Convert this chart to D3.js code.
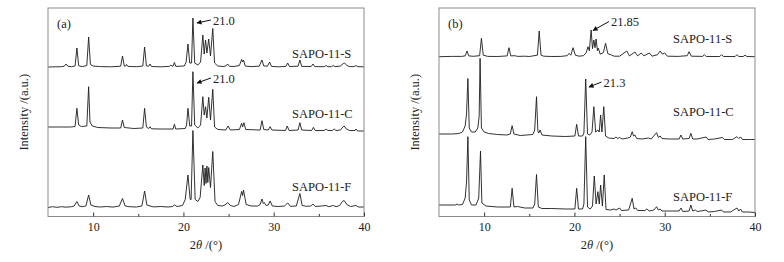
<!DOCTYPE html>
<html>
<head>
<meta charset="utf-8">
<script src="https://cdn.jsdelivr.net/npm/d3@7"></script>
<style>
  body { margin: 0; background: #fff; }
  svg { display: block; }
  text { font-family: "Liberation Serif", "Times New Roman", serif; fill: #222; }
</style>
</head>
<body>
<svg id="chart" width="784" height="262"></svg>
<script>
// ── Data (2θ in degrees, intensity in a.u. above each trace's own baseline) ──

var xTicks      = [10, 20, 30, 40];
var xMinorTicks = [15, 25, 35];
var sampleNames = ["SAPO-11-S", "SAPO-11-C", "SAPO-11-F"];
var panelTags   = ["(a)", "(b)"];

// vertical stacking of the three traces in each panel
var offsetsA = [149.5, 86.5, 9];
var offsetsB = [159.8, 80.5, 4.5];

var aS = [[5,0],[6.5,0.3],[6.8,0.8],[7.0,3],[7.2,0.8],[7.6,0.3],[8.0,1],[8.2,19],[8.4,1.2],[8.8,0.4],[9.3,1.5],[9.5,30],[9.7,2.5],[10.0,1],[10.8,0.4],[12.0,0.2],[13.05,0.8],[13.25,11],[13.45,1],[13.6,1],[13.7,2.5],[13.85,0.6],[14.8,0.3],[15.5,1],[15.7,20],[15.9,1.2],[16.15,0.8],[16.3,3],[16.45,0.5],[17.5,0.2],[18.45,0.6],[18.6,2],[18.75,0.8],[18.85,0.8],[19.0,4.5],[19.15,0.6],[20.1,1],[20.3,5],[20.5,23],[20.7,4],[20.9,4],[21.05,49],[21.25,4],[21.6,2],[21.9,5],[22.15,32],[22.3,13],[22.45,27],[22.6,14],[22.8,28],[23.0,11],[23.25,38.5],[23.45,4],[23.8,1],[24.4,0.5],[24.7,1],[24.9,3],[25.1,0.7],[25.6,0.5],[26.2,1.5],[26.45,7.5],[26.55,5],[26.65,7],[26.85,1],[27.5,0.4],[28.4,0.8],[28.7,7],[28.9,1],[29.3,0.8],[29.55,5],[29.75,0.6],[30.5,0.2],[31.35,0.6],[31.55,4],[31.75,0.5],[32.7,0.8],[32.9,7],[33.1,0.6],[34.15,0.5],[34.35,3],[34.55,0.4],[35.6,0.3],[35.8,1.5],[36.0,0.3],[36.4,0.3],[36.6,1.5],[36.8,0.3],[37.4,1],[37.7,3.5],[37.85,4],[38.1,1.5],[38.4,0.4],[38.9,0.4],[39.1,1.5],[39.3,0.3],[40,0.2]];

var aC = [[5,3],[6.5,3],[7.5,3],[8.0,3.5],[8.2,21.7],[8.4,5],[8.7,3.5],[9.3,4],[9.5,43.3],[9.65,8],[9.9,4],[10.5,2.5],[12,2],[13.05,2],[13.25,10],[13.45,2.5],[14.5,1.5],[15.5,2],[15.7,21.7],[15.9,3],[16.15,1.5],[16.3,3.3],[16.45,1.2],[17.5,1],[18.85,1],[19.0,5.7],[19.15,1],[20.2,1.5],[20.35,5],[20.5,21.7],[20.7,4],[20.9,4],[21.05,58.3],[21.25,5],[21.6,2],[21.9,5],[22.15,33.3],[22.3,15],[22.45,23.3],[22.6,12],[22.8,32.7],[23.0,10],[23.25,40.7],[23.45,3],[23.8,0.5],[24.7,0],[24.95,4],[25.2,0],[26.2,0.5],[26.45,6.7],[26.55,3],[26.7,7.3],[26.9,0.5],[28.5,0],[28.7,9.3],[28.9,0.5],[29.4,0],[29.6,3.3],[29.8,0],[31.3,-0.5],[31.5,4],[31.7,-0.5],[32.7,0],[32.9,7.3],[33.1,0],[34.2,-0.5],[34.4,2.7],[34.6,-0.5],[35.6,-0.5],[35.8,1],[36.0,-0.5],[36.5,-0.5],[36.7,1],[36.9,-0.5],[37.4,0],[37.65,3],[37.8,4],[38.05,1],[38.4,-0.5],[39.0,-0.5],[39.1,1],[39.3,-1],[40,-1]];

var aF = [[5,0],[5.5,0.8],[6,0.2],[6.5,0.8],[7,0.3],[7.6,0.8],[7.9,1.5],[8.2,6],[8.45,1.5],[8.8,0.8],[9.2,1.5],[9.5,12.5],[9.75,2.5],[10.2,1],[10.8,0.5],[11.5,1],[12.2,0.4],[12.9,1.5],[13.25,9],[13.55,1.5],[14,0.8],[14.8,0.5],[15.4,1.5],[15.7,16.5],[15.95,2.5],[16.3,1.5],[16.7,0.6],[17.5,1],[18.3,0.5],[18.8,1],[19.0,2.5],[19.3,1],[19.9,2],[20.2,8],[20.5,32.5],[20.75,8],[20.85,8],[21.05,77],[21.3,8],[21.6,6],[21.85,10],[22.15,42.5],[22.3,22],[22.4,39.5],[22.5,24],[22.6,41.5],[22.7,25],[22.8,40],[23.0,20],[23.25,56],[23.5,6],[23.8,2],[24.3,1.5],[24.6,2.5],[24.9,5],[25.2,2],[25.6,1],[26.1,3],[26.45,16],[26.55,12],[26.65,17.5],[26.95,3],[27.5,1.5],[28.2,1.5],[28.5,3],[28.7,8.5],[28.85,4],[28.95,5],[29.15,2],[29.4,2.5],[29.6,6.5],[29.85,1.5],[30.5,1],[31.2,1.5],[31.55,4.5],[31.85,1.2],[32.5,1.5],[32.9,14],[33.15,2],[33.6,1.2],[34.1,1.5],[34.35,3.5],[34.6,1],[35.3,1.5],[35.8,2],[36.1,0.8],[36.6,2],[36.9,0.8],[37.3,2],[37.6,6],[37.8,7],[38.1,3],[38.5,1],[39.1,2],[39.4,0.5],[40,0.5]];

var bS = [[5,0],[6.5,0.3],[7.5,0.3],[7.9,0.8],[8.1,5.7],[8.3,0.8],[8.8,0.4],[9.5,1],[9.7,18.4],[9.9,1.5],[10.4,0.3],[11.5,0.2],[12.55,0.8],[12.75,9],[12.95,0.8],[13.4,1],[13.7,0.3],[14.5,0.5],[15.0,0.2],[15.9,1.5],[16.1,25.7],[16.3,1.5],[16.6,0.5],[17.5,0.2],[18.5,0.3],[19.2,1],[19.4,3.4],[19.6,1.5],[19.85,9],[20.1,1.5],[20.5,0.5],[21.0,1],[21.3,4],[21.5,10],[21.65,6],[21.85,26.7],[22.0,8],[22.15,16.7],[22.28,9],[22.4,17.7],[22.55,6],[22.65,8.7],[22.85,2.5],[23.2,4],[23.45,13.4],[23.7,3],[24.1,1.7],[24.4,0.5],[25.0,0.5],[25.8,5.7],[26.1,0.8],[26.7,4.7],[27.0,0.8],[27.4,3.7],[27.7,0.8],[28.3,3.7],[28.6,0.5],[29.2,2],[29.5,5.7],[29.75,2.5],[30.0,3.7],[30.3,0.5],[31.5,0.3],[32.5,1],[32.7,5],[32.95,0.5],[34.2,0.3],[34.4,2],[34.6,0.2],[36.1,0.2],[36.3,2],[36.5,0.2],[37.8,0.2],[38.0,2],[38.2,0.2],[38.7,0.2],[38.9,1.5],[39.1,0.2],[40,0]];

var bC = [[5,2],[6.5,2],[7.2,2.5],[7.6,4],[7.9,10],[8.05,22],[8.2,57.5],[8.35,8],[8.6,4],[9.0,4],[9.3,8],[9.45,20],[9.55,77.7],[9.7,8],[10.0,4],[10.5,2.5],[11.5,1.5],[12.5,1],[12.9,2],[13.1,10.3],[13.3,2],[14,0.5],[15.4,1.5],[15.6,6],[15.8,39.3],[15.95,5],[16.05,3],[16.2,6],[16.4,1],[17.5,0],[19,-0.5],[20.05,0],[20.25,11.7],[20.45,0],[20.9,0],[21.05,3],[21.25,57],[21.45,2],[21.7,1],[21.95,4],[22.15,29.3],[22.35,4],[22.6,6],[22.75,4],[22.9,21],[23.05,4],[23.25,29.3],[23.45,0],[23.8,-2],[24.4,-2.5],[24.6,-1],[24.8,-2.5],[25.0,-1.5],[25.3,-3],[25.9,-2],[26.2,-1],[26.4,4.3],[26.55,0],[26.7,1],[26.9,-2.5],[27.5,-3],[28.2,-2],[28.5,-3],[29.1,3.3],[29.3,-1.5],[29.5,0],[29.7,-2.5],[30.5,-3],[31.6,-3],[31.8,1],[32,-3],[32.7,-2.5],[32.9,2.7],[33.1,-3],[33.6,-3],[34.6,-1],[34.8,-3.5],[35.5,-3],[36.4,-1.5],[36.6,-3.5],[37.5,-3.5],[38.0,-0.7],[38.2,-2.5],[38.4,-1],[38.6,-3.5],[39.5,-3.5],[40,-3.5]];

var bF = [[5,7],[6,7],[6.8,7],[7.0,8],[7.2,7],[7.6,7.5],[7.9,14],[8.05,30],[8.2,75.3],[8.35,12],[8.6,7],[9.1,7],[9.4,14],[9.6,61],[9.75,9],[10.2,6],[11.5,5],[12.9,5],[13.1,23.7],[13.3,5],[13.7,5.5],[14.5,4],[15.4,4],[15.6,8],[15.8,37.5],[16.0,5],[16.4,3.5],[17.5,3.5],[19.0,3],[20.05,3],[20.25,23.7],[20.45,3],[20.9,3],[21.05,8],[21.25,75.3],[21.45,5],[21.75,3],[22.0,6],[22.2,36],[22.4,8],[22.6,20.3],[22.75,8],[22.9,27],[23.1,6],[23.3,37],[23.5,2.5],[24.0,2],[24.4,3],[24.6,2],[25.0,4],[25.2,1.5],[26.0,2],[26.4,13.7],[26.6,3],[26.8,4],[27.0,1.5],[27.8,1.5],[28.0,3],[28.3,1],[28.8,2],[29.1,5.3],[29.3,2],[29.5,3],[29.7,1],[30.5,1],[31.6,1],[31.8,4],[32.0,0.5],[32.7,1],[32.9,7],[33.1,1],[33.4,2],[33.6,0.5],[34.0,1],[34.6,2],[34.8,0],[35.5,0.5],[36.3,2],[36.5,0],[37.3,0],[38.0,4],[38.2,1],[38.4,3],[38.6,0],[39.3,0],[40,-0.5]];

// peak call-outs: arrow head and label anchor, both as [2θ, level above trace baseline]
var notesA = [
  { trace: 0, text: "21.0",  head: [21.5, 44],   label: [23.27, 42.5] },
  { trace: 1, text: "21.0",  head: [21.5, 47],   label: [23.27, 47.5] }
];
var notesB = [
  { trace: 0, text: "21.85", head: [22.06, 26.2], label: [24.05, 30.7] },
  { trace: 1, text: "21.3",  head: [21.61, 49],   label: [23.22, 49.5] }
];

// ── Layout ──

var H = 262;
var plotTop = 8, plotBottom = 216.5;
var panels = [
  { x0: 48,  x1: 364, traces: [aS, aC, aF], offsets: offsetsA, notes: notesA, nameX: 292, nameY: [57.5, 117.5, 190.5] },
  { x0: 439, x1: 755, traces: [bS, bC, bF], offsets: offsetsB, notes: notesB, nameX: 673, nameY: [43, 116, 201] }
];

var svg = d3.select("#chart");
svg.append("rect").attr("width", 784).attr("height", H).attr("fill", "#fff");

var defs = svg.append("defs");
defs.append("marker")
  .attr("id", "arrowhead")
  .attr("viewBox", "0 0 10 10")
  .attr("refX", 9).attr("refY", 5)
  .attr("markerWidth", 6).attr("markerHeight", 5)
  .attr("markerUnits", "userSpaceOnUse")
  .attr("orient", "auto")
  .append("path")
  .attr("d", "M0,0 L10,5 L0,10 z")
  .attr("fill", "#111");

var y = d3.scaleLinear().domain([0, plotBottom - plotTop]).range([plotBottom, plotTop]);

panels.forEach(function(p, pi) {
  var x = d3.scaleLinear().domain([5, 40]).range([p.x0, p.x1]);
  var g = svg.append("g");

  // traces
  p.traces.forEach(function(tr, ti) {
    var off = p.offsets[ti];
    var line = d3.line()
      .x(function(d) { return x(d[0]); })
      .y(function(d) { return y(d[1] + off); });
    g.append("path")
      .datum(tr)
      .attr("d", line)
      .attr("fill", "none")
      .attr("stroke", "#1c1c1c")
      .attr("stroke-width", 0.9)
      .attr("stroke-linejoin", "round");

    g.append("text")
      .attr("x", p.nameX)
      .attr("y", p.nameY[ti])
      .style("font-size", "12.5px")
      .text(sampleNames[ti]);
  });

  // frame
  g.append("rect")
    .attr("x", p.x0).attr("y", plotTop)
    .attr("width", p.x1 - p.x0).attr("height", plotBottom - plotTop)
    .attr("fill", "none")
    .attr("stroke", "#8c8c8c")
    .attr("stroke-width", 1);

  // bottom axis: major ticks with labels, minor ticks without
  g.append("g")
    .attr("transform", "translate(0," + plotBottom + ")")
    .call(d3.axisBottom(x).tickValues(xTicks).tickSize(-4).tickPadding(6))
    .call(function(a) {
      a.select(".domain").remove();
      a.selectAll("line").attr("stroke", "#333");
      a.selectAll("text")
        .style("font-size", "12px")
        .style("font-family", "'Liberation Serif', 'Times New Roman', serif")
        .attr("fill", "#222");
    });
  g.append("g")
    .attr("transform", "translate(0," + plotBottom + ")")
    .call(d3.axisBottom(x).tickValues(xMinorTicks).tickSize(-2.5).tickFormat(""))
    .call(function(a) {
      a.select(".domain").remove();
      a.selectAll("line").attr("stroke", "#333");
    });

  // axis titles
  var xt = g.append("text")
    .attr("x", (p.x0 + p.x1) / 2)
    .attr("y", 249)
    .attr("text-anchor", "middle")
    .style("font-size", "12.5px");
  xt.append("tspan").text("2");
  xt.append("tspan").style("font-style", "italic").text("θ");
  xt.append("tspan").text(" /(°)");

  g.append("text")
    .attr("transform", "translate(" + (p.x0 - 20) + "," + ((plotTop + plotBottom) / 2) + ") rotate(-90)")
    .attr("text-anchor", "middle")
    .style("font-size", "12.5px")
    .text("Intensity /(a.u.)");

  // panel tag
  g.append("text")
    .attr("x", p.x0 + 9)
    .attr("y", plotTop + 20)
    .style("font-size", "12.5px")
    .text(panelTags[pi]);

  // call-outs
  p.notes.forEach(function(n) {
    var off = p.offsets[n.trace];
    var lx = x(n.label[0]), ly = y(n.label[1] + off);
    g.append("line")
      .attr("x1", lx - 2).attr("y1", ly - 4.5)
      .attr("x2", x(n.head[0])).attr("y2", y(n.head[1] + off))
      .attr("stroke", "#111").attr("stroke-width", 1)
      .attr("marker-end", "url(#arrowhead)");
    g.append("text")
      .attr("x", lx)
      .attr("y", ly)
      .style("font-size", "12.5px")
      .text(n.text);
  });
});
</script>
</body>
</html>
